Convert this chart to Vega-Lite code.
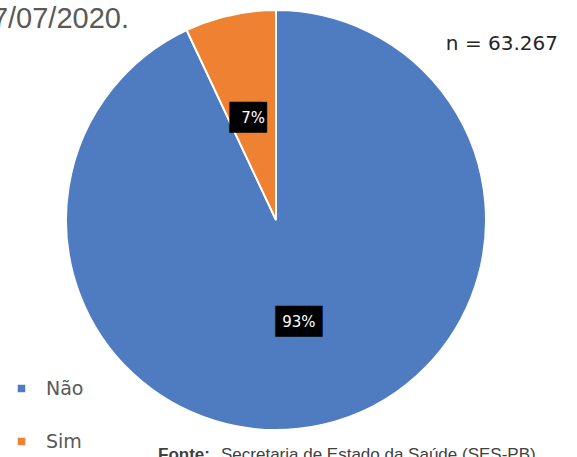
{
  "$schema": "https://vega.github.io/schema/vega-lite/v6.json",
  "width": 418,
  "height": 418,
  "autosize": {"type": "none"},
  "padding": {"left": 67, "top": 11, "right": 92, "bottom": 28},
  "background": "white",
  "config": {
    "view": {"stroke": null},
    "legend": {
      "orient": "none",
      "legendX": -55,
      "legendY": 368,
      "padding": 0,
      "symbolType": "square",
      "symbolSize": 56,
      "symbolStrokeWidth": 0,
      "labelFont": "DejaVu Sans",
      "labelFontSize": 19,
      "labelColor": "#595959",
      "labelOffset": 15,
      "rowPadding": 33
    }
  },
  "layer": [
    {
      "data": {
        "values": [
          {"cat": "Não", "v": 93, "label": "93%"},
          {"cat": "Sim", "v": 7, "label": "7%"}
        ]
      },
      "encoding": {
        "theta": {"field": "v", "type": "quantitative", "stack": true},
        "order": {"field": "v", "type": "quantitative", "sort": "descending"}
      },
      "layer": [
        {
          "mark": {"type": "arc", "outerRadius": 210, "stroke": "white", "strokeWidth": 2},
          "encoding": {
            "color": {
              "field": "cat",
              "type": "nominal",
              "scale": {"domain": ["Não", "Sim"], "range": ["#4F7BC0", "#EE8132"]},
              "legend": {"title": null}
            }
          }
        },
        {
          "mark": {"type": "text", "radius": 105, "font": "DejaVu Sans Mono", "fontSize": 26, "color": "black", "align": "center", "baseline": "middle"},
          "encoding": {
            "detail": {"field": "cat", "type": "nominal"},
            "text": {"condition": {"test": "datum.cat === 'Sim'", "value": "██▍"}, "value": "███"}
          }
        },
        {
          "mark": {"type": "text", "radius": 105, "font": "DejaVu Sans", "fontSize": 15, "color": "white", "align": "center", "baseline": "middle"},
          "encoding": {
            "detail": {"field": "cat", "type": "nominal"},
            "text": {"field": "label", "type": "nominal"}
          }
        }
      ]
    },
    {
      "data": {"values": [{"t": "7/07/2020."}]},
      "mark": {"type": "text", "align": "right", "baseline": "alphabetic", "font": "Liberation Sans", "fontSize": 29, "color": "#595959", "dx": 62, "dy": 17},
      "encoding": {
        "x": {"value": 0},
        "y": {"value": 0},
        "text": {"field": "t", "type": "nominal"}
      }
    },
    {
      "data": {"values": [{"t": "n = 63.267"}]},
      "mark": {"type": "text", "align": "right", "baseline": "middle", "font": "DejaVu Sans", "fontSize": 20, "color": "#262626", "dx": 73, "dy": 33},
      "encoding": {
        "x": {"value": "width"},
        "y": {"value": 0},
        "text": {"field": "t", "type": "nominal"}
      }
    },
    {
      "data": {"values": [{"t": "Fonte:"}]},
      "mark": {"type": "text", "align": "left", "baseline": "alphabetic", "font": "Liberation Sans", "fontWeight": "bold", "fontSize": 17, "color": "#404040", "dx": 91, "dy": 31},
      "encoding": {
        "x": {"value": 0},
        "y": {"value": "height"},
        "text": {"field": "t", "type": "nominal"}
      }
    },
    {
      "data": {"values": [{"t": "Secretaria de Estado da Saúde (SES-PB)"}]},
      "mark": {"type": "text", "align": "left", "baseline": "alphabetic", "font": "Liberation Sans", "fontSize": 17, "color": "#404040", "dx": 154, "dy": 31},
      "encoding": {
        "x": {"value": 0},
        "y": {"value": "height"},
        "text": {"field": "t", "type": "nominal"}
      }
    }
  ]
}
